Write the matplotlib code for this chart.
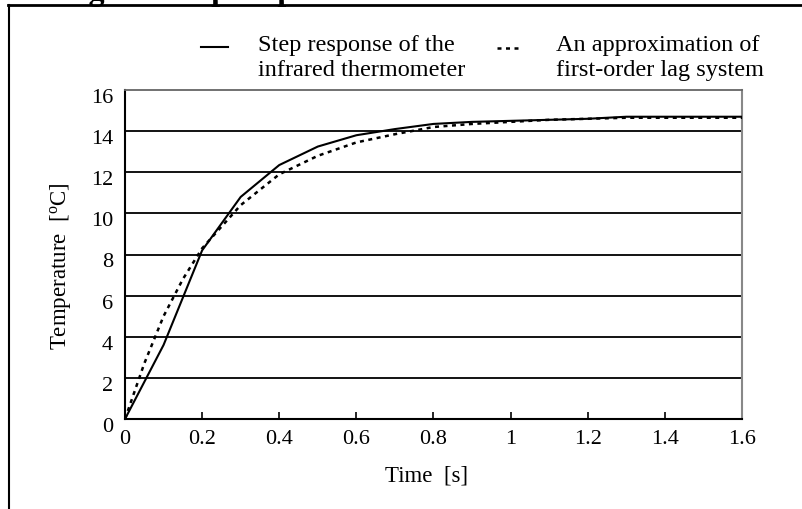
import numpy as np
import matplotlib
matplotlib.use("Agg")
import matplotlib.pyplot as plt
from matplotlib.lines import Line2D
from matplotlib.transforms import ScaledTranslation

plt.rcParams['font.family'] = ['Liberation Serif', 'DejaVu Serif']
plt.rcParams['mathtext.fontset'] = 'custom'
plt.rcParams['mathtext.rm'] = 'Liberation Serif'

# step response of the infrared thermometer (solid)
t_meas = [0, 0.1, 0.2, 0.3, 0.4, 0.5, 0.6, 0.7, 0.8, 0.9, 1.0, 1.1, 1.2, 1.3, 1.4, 1.5, 1.6]
temp_meas = [0, 3.6, 8.2, 10.8, 12.35, 13.25, 13.8, 14.1, 14.35, 14.45, 14.5, 14.55, 14.6, 14.7, 14.7, 14.7, 14.7]

# first-order lag approximation (dashed)
t_fit = [0, 0.05, 0.1, 0.15, 0.2, 0.3, 0.4, 0.5, 0.6, 0.7, 0.8, 0.9, 1.0, 1.1, 1.2, 1.3, 1.4, 1.5, 1.6]
temp_fit = [0, 2.7, 5.0, 6.8, 8.3, 10.4, 11.9, 12.8, 13.45, 13.85, 14.2, 14.35, 14.45, 14.55, 14.6, 14.65, 14.65, 14.65, 14.65]

xticks = [0, 0.2, 0.4, 0.6, 0.8, 1.0, 1.2, 1.4, 1.6]
xtick_labels = ['0', '0.2', '0.4', '0.6', '0.8', '1', '1.2', '1.4', '1.6']
yticks = [0, 2, 4, 6, 8, 10, 12, 14, 16]

W, H = 803, 510
fig = plt.figure(figsize=(W / 100, H / 100), dpi=100)
ax = fig.add_axes([125 / W, 1 - 420 / H, 617 / W, 329 / H])

def px(x, y):
    return x / W, 1 - y / H

for y in yticks[1:-1]:
    ax.axhline(y, color='black', lw=1.3, zorder=1)

dash = (0, (1.6, 1.8))
ax.plot(t_meas, temp_meas, color='black', lw=1.5, zorder=3)
ax.plot(t_fit, temp_fit, color='black', lw=1.8, linestyle=dash, zorder=3)

ax.set_xlim(0, 1.6)
ax.set_ylim(0, 16)
ax.set_xticks(xticks)
ax.set_xticklabels(xtick_labels)
ax.set_yticks(yticks)
ax.tick_params(axis='x', direction='in', length=5, width=1.2, labelsize=16, pad=7)
ax.tick_params(axis='y', length=0, labelsize=16, pad=8.5)

# y labels sit a little below their gridlines in the original
shift = ScaledTranslation(0, -5 / 100, fig.dpi_scale_trans)
for lab in ax.get_yticklabels():
    lab.set_transform(lab.get_transform() + shift)

ax.spines['left'].set_color('black')
ax.spines['bottom'].set_color('black')
ax.spines['left'].set_linewidth(1.5)
ax.spines['bottom'].set_linewidth(1.5)
ax.spines['top'].set_color('#666666')
ax.spines['right'].set_color('#888888')
ax.spines['top'].set_linewidth(1.3)
ax.spines['right'].set_linewidth(1.5)

fig.text(*px(427, 482), 'Time  [s]', fontsize=16.5, ha='center', va='baseline')
fig.text(*px(61, 266), 'Temperature  [$\\mathrm{^o}$C]', fontsize=16.5,
         rotation=90, ha='center', va='center')

# legend drawn by hand
fig.add_artist(Line2D([201 / W, 228 / W], [1 - 48 / H] * 2, color='black', lw=1.5))
fig.add_artist(Line2D([497 / W, 518 / W], [1 - 49 / H] * 2, color='black', lw=1.8,
                      linestyle=dash))
fig.text(*px(258, 51), 'Step response of the', fontsize=17.5, ha='left', va='baseline')
fig.text(*px(258, 76), 'infrared thermometer', fontsize=17.5, ha='left', va='baseline')
fig.text(*px(556, 51), 'An approximation of', fontsize=17.5, ha='left', va='baseline')
fig.text(*px(556, 76), 'first-order lag system', fontsize=17.5, ha='left', va='baseline')

# outer frame of the page
fig.add_artist(Line2D([8 / W, 1], [1 - 6 / H] * 2, color='black', lw=2))
fig.add_artist(Line2D([9 / W, 9 / W], [0, 1 - 6 / H], color='black', lw=1.5))

# title cut off at the top
fig.text(*px(60, 0), 'Fig. 12  Step response of the infrared thermometer', fontsize=23,
         fontweight='bold', ha='left', va='baseline')

fig.savefig('out.png', dpi=100)
